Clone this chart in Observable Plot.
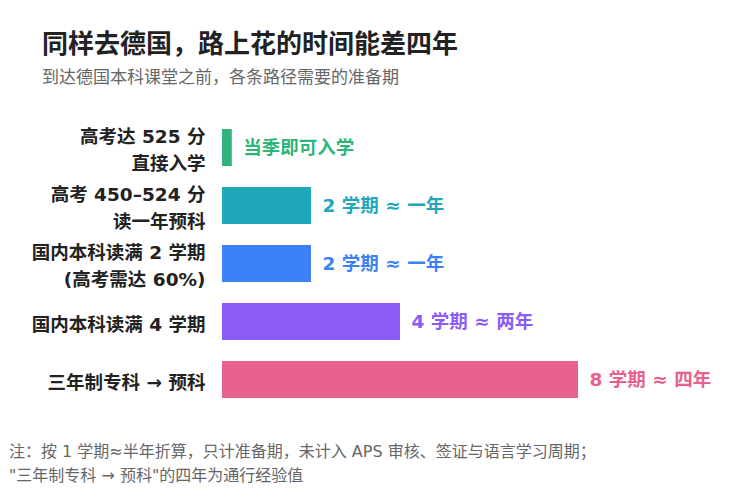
<!DOCTYPE html>
<html>
<head>
<meta charset="utf-8">
<script src="https://cdn.jsdelivr.net/npm/d3@7"></script>
<script src="https://cdn.jsdelivr.net/npm/@observablehq/plot@0.6"></script>
<style>
  body { margin: 0; background: #fff; font-family: "DejaVu Sans", "Noto Sans CJK SC", sans-serif; }
  #wrap { width: 750px; height: 500px; position: relative; overflow: hidden; }
  .title { margin: 29px 0 0 42px; height: 30px; line-height: 30px; font-size: 26px; font-weight: 700; color: #222; }
  .subtitle { margin: 7px 0 0 42px; height: 22px; line-height: 22px; font-size: 17px; color: #666; }
  #chart { margin-top: 12px; height: 330px; }
  .note { margin: 10px 0 0 9px; font-size: 16px; line-height: 24px; color: #666; }
</style>
</head>
<body>
<div id="wrap">
  <div class="title">同样去德国，路上花的时间能差四年</div>
  <div class="subtitle">到达德国本科课堂之前，各条路径需要的准备期</div>
  <div id="chart"></div>
  <div class="note">注：按 1 学期≈半年折算，只计准备期，未计入 APS 审核、签证与语言学习周期；<br>"三年制专科 → 预科"的四年为通行经验值</div>
</div>
<script>
const categories = [
  "高考达 525 分\n直接入学",
  "高考 450–524 分\n读一年预科",
  "国内本科读满 2 学期\n(高考需达 60%)",
  "国内本科读满 4 学期",
  "三年制专科 → 预科"
];
const semesters = [0, 2, 2, 4, 8];
const valueLabels = ["当季即可入学", "2 学期 ≈ 一年", "2 学期 ≈ 一年", "4 学期 ≈ 两年", "8 学期 ≈ 四年"];
const colors = ["#2fb57a", "#20a7b9", "#3b82f6", "#8b5cf6", "#e8608c"];
const minVisible = 0.22; // minimum drawn length so a zero-length path stays visible

const data = categories.map((c, i) => ({cat: c, sem: semesters[i], label: valueLabels[i]}));
const shown = d => Math.max(d.sem, minVisible);

const chart = Plot.plot({
  width: 750,
  height: 330,
  marginLeft: 222,
  marginRight: 172,
  marginTop: 6,
  marginBottom: 10,
  style: {fontFamily: '"DejaVu Sans", "Noto Sans CJK SC", sans-serif', color: "#222", background: "transparent"},
  x: {domain: [0, 8], axis: null},
  y: {domain: categories, padding: 0.37, axis: null},
  color: {domain: categories, range: colors},
  marks: [
    Plot.barX(data, {x1: 0, x2: shown, y: "cat", fill: "cat"}),
    Plot.text(data, {x: shown, y: "cat", text: "label", fill: "cat", dx: 11, textAnchor: "start", fontSize: 18.5, fontWeight: 700}),
    Plot.axisY({tickSize: 0, tickPadding: 17, fontSize: 18.5, fontWeight: 700, lineHeight: 1.46, label: null})
  ]
});
document.getElementById("chart").appendChild(chart);
</script>
</body>
</html>
